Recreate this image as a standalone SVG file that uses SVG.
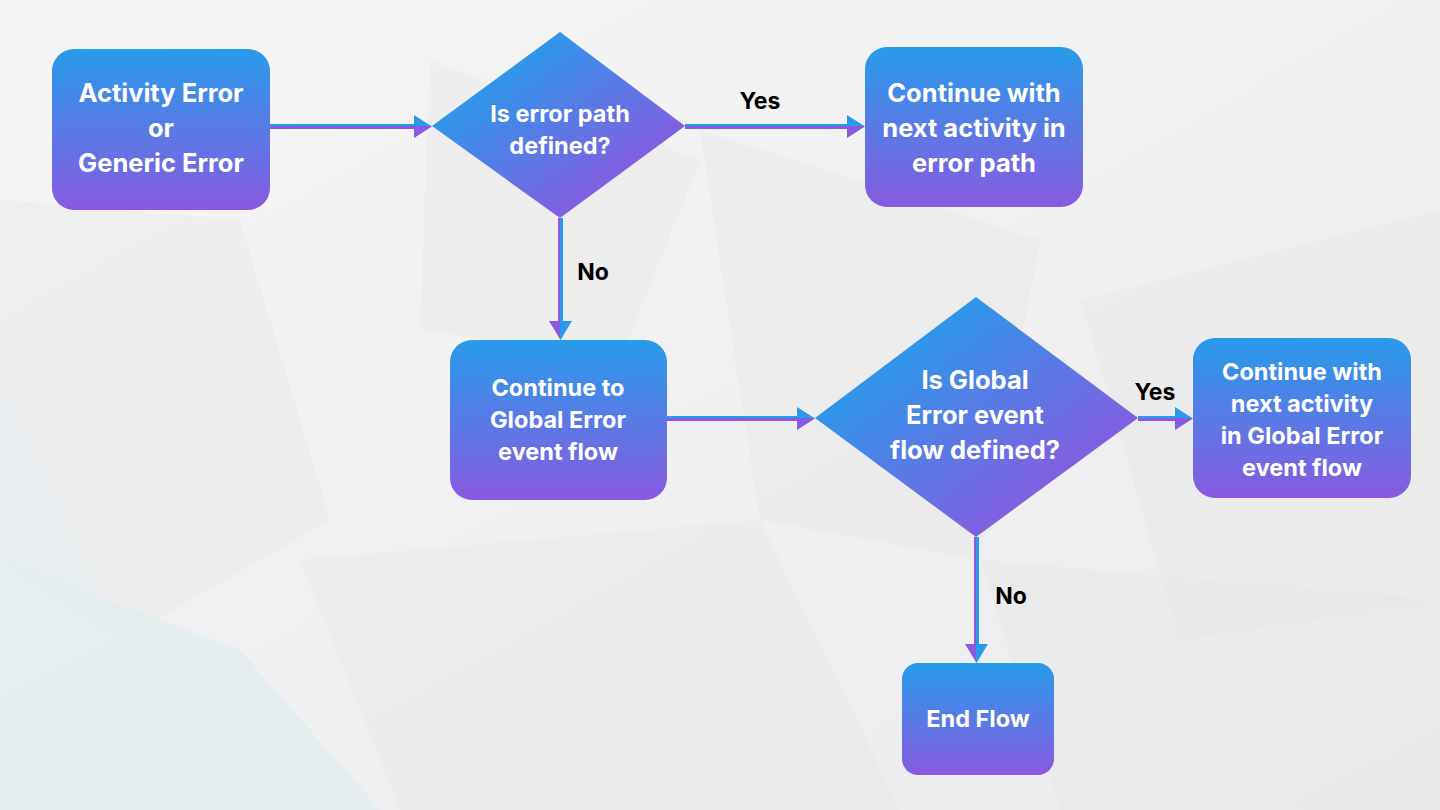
<svg xmlns="http://www.w3.org/2000/svg" width="1440" height="810" viewBox="0 0 1440 810">
<defs>
<linearGradient id="bg" x1="0" y1="0" x2="1" y2="1"><stop offset="0" stop-color="#f5f5f6"/><stop offset="1" stop-color="#ececee"/></linearGradient>
<linearGradient id="gv" x1="0" y1="0" x2="0" y2="1"><stop offset="0" stop-color="#279bea"/><stop offset="1" stop-color="#885ae0"/></linearGradient>
<linearGradient id="gd" x1="0" y1="0" x2="1" y2="1"><stop offset="0.2" stop-color="#279bea"/><stop offset="0.8" stop-color="#885ae0"/></linearGradient>
<linearGradient id="ah" x1="0" y1="0" x2="0" y2="1"><stop offset="0.5" stop-color="#279bea"/><stop offset="0.5" stop-color="#885ae0"/></linearGradient>
<linearGradient id="av" x1="0" y1="0" x2="1" y2="0"><stop offset="0.5" stop-color="#885ae0"/><stop offset="0.5" stop-color="#279bea"/></linearGradient>
<style>
.box{fill:url(#gv)}
.dia{fill:url(#gd)}
.t{font-family:Inter,Roboto,"Liberation Sans",sans-serif;font-weight:700;fill:#ffffff;text-anchor:middle}
.lab{font-family:Inter,Roboto,"Liberation Sans",sans-serif;font-weight:700;fill:#000000;font-size:23px;text-anchor:middle}
.poly{fill:#e4e4e6;opacity:0.35}
</style>
</defs>
<rect width="1440" height="810" fill="url(#bg)"/>
<g id="background">
<polygon class="poly" points="0,200 240,220 330,520 120,640 0,560"/>
<polygon class="poly" points="430,60 700,160 620,360 420,330" opacity="0.2"/>
<polygon class="poly" points="700,130 1040,240 980,560 760,520"/>
<polygon class="poly" points="1080,300 1440,210 1440,600 1180,640"/>
<polygon class="poly" points="300,560 760,520 900,810 400,810"/>
<polygon class="poly" points="980,560 1440,600 1440,810 1060,810"/>
<polygon points="0,560 240,650 380,810 0,810" fill="#dcecee" opacity="0.6"/>
<polygon points="0,380 120,640 0,700" fill="#e3f0f1" opacity="0.5"/>
</g>
<g id="connectors">
<path d="M270,124 H414 V115 L432,126.5 L414,138 V129 H270 Z" fill="url(#ah)"/>
<path d="M685,124 H847 V115 L865,126.5 L847,138 V129 H685 Z" fill="url(#ah)"/>
<path d="M667,416 H797 V407 L815,418.5 L797,430 V421 H667 Z" fill="url(#ah)"/>
<path d="M1138,416 H1175 V407 L1193,418.5 L1175,430 V421 H1138 Z" fill="url(#ah)"/>
<path d="M558,218 V321 H549 L560.5,340 L572,321 H563 V218 Z" fill="url(#av)"/>
<path d="M974,537 V644 H965 L976.5,663 L988,644 H979 V537 Z" fill="url(#av)"/>
<text class="lab" x="760" y="109">Yes</text>
<text class="lab" x="593" y="280">No</text>
<text class="lab" x="1155" y="400">Yes</text>
<text class="lab" x="1011" y="604">No</text>
</g>
<g id="n1">
<rect class="box" x="52" y="49" width="218" height="161" rx="22"/>
<text class="t" font-size="25.5" x="161" y="102">Activity Error</text>
<text class="t" font-size="25.5" x="161" y="137">or</text>
<text class="t" font-size="25.5" x="161" y="172">Generic Error</text>
</g>
<g id="d1">
<polygon class="dia" points="432,126 560,32 685,126 560,218"/>
<text class="t" font-size="23.5" x="560" y="122">Is error path</text>
<text class="t" font-size="23.5" x="560" y="154">defined?</text>
</g>
<g id="n2">
<rect class="box" x="865" y="47" width="218" height="160" rx="22"/>
<text class="t" font-size="25.5" x="974" y="102">Continue with</text>
<text class="t" font-size="25.5" x="974" y="137">next activity in</text>
<text class="t" font-size="25.5" x="974" y="172">error path</text>
</g>
<g id="n3">
<rect class="box" x="450" y="340" width="217" height="160" rx="22"/>
<text class="t" font-size="23.5" x="558" y="396">Continue to</text>
<text class="t" font-size="23.5" x="558" y="428">Global Error</text>
<text class="t" font-size="23.5" x="558" y="460">event flow</text>
</g>
<g id="d2">
<polygon class="dia" points="815,418 976,297 1138,418 976,537"/>
<text class="t" font-size="25.5" x="975" y="389">Is Global</text>
<text class="t" font-size="25.5" x="975" y="424">Error event</text>
<text class="t" font-size="25.5" x="975" y="459">flow defined?</text>
</g>
<g id="n4">
<rect class="box" x="1193" y="338" width="218" height="160" rx="22"/>
<text class="t" font-size="23.5" x="1302" y="380">Continue with</text>
<text class="t" font-size="23.5" x="1302" y="412">next activity</text>
<text class="t" font-size="23.5" x="1302" y="444">in Global Error</text>
<text class="t" font-size="23.5" x="1302" y="476">event flow</text>
</g>
<g id="n5">
<rect class="box" x="902" y="663" width="152" height="112" rx="16"/>
<text class="t" font-size="23.5" x="978" y="727">End Flow</text>
</g>
</svg>
